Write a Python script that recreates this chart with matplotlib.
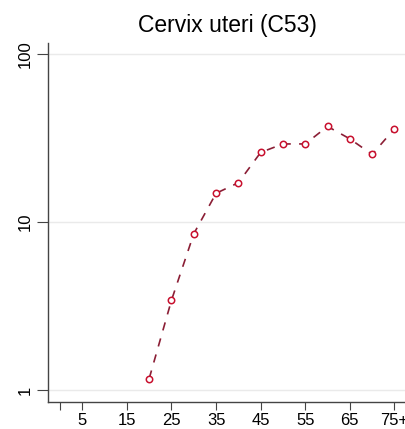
import matplotlib.pyplot as plt
from matplotlib.ticker import FixedLocator, NullLocator

plt.rcParams['font.family'] = ['Liberation Sans', 'DejaVu Sans']

edades = [20, 25, 30, 35, 40, 45, 50, 55, 60, 65, 70, 75]
tasas = [1.17, 3.42, 8.5, 14.8, 17.1, 25.9, 29.1, 29.1, 37.0, 31.2, 25.2, 35.8]
xticks = [0, 5, 15, 25, 35, 45, 55, 65, 75]
xlabels = ['', '5', '15', '25', '35', '45', '55', '65', '75+']
yticks = [1, 10, 100]

fig = plt.figure(figsize=(4.06, 4.29), dpi=100)
ax = fig.add_axes([48 / 406, 27 / 429, 358 / 406, 359 / 429])

ax.plot(edades, tasas, color='#8B1E35', lw=1.2, dashes=(5, 5), zorder=2)
ax.plot(edades, tasas, ls='none', marker='o', ms=4.6, mfc='white',
        mec='#C8102E', mew=1.1, zorder=3)

ax.set_yscale('log')
ax.set_xlim(-2.7, 77.6)
ax.set_ylim(0.848, 116)
ax.yaxis.set_major_locator(FixedLocator(yticks))
ax.yaxis.set_minor_locator(NullLocator())
ax.set_yticks(yticks)
ax.set_yticklabels(['1', '10', '100'], rotation=90, va='center', fontsize=12)
ax.set_xticks(xticks)
ax.set_xticklabels(xlabels, fontsize=12)
ax.grid(axis='y', color='#EAEAEA', lw=1)
ax.set_axisbelow(True)

for s in ['top', 'right']:
    ax.spines[s].set_visible(False)
for s in ['left', 'bottom']:
    ax.spines[s].set_color('#444444')
    ax.spines[s].set_linewidth(1.0)
ax.tick_params(axis='y', length=8, color='#444444', pad=3)
ax.tick_params(axis='x', length=6, color='#444444', pad=2)

ax.set_title('Cervix uteri (C53)', fontsize=16.5, pad=8)

fig.savefig('out.png', dpi=100)
